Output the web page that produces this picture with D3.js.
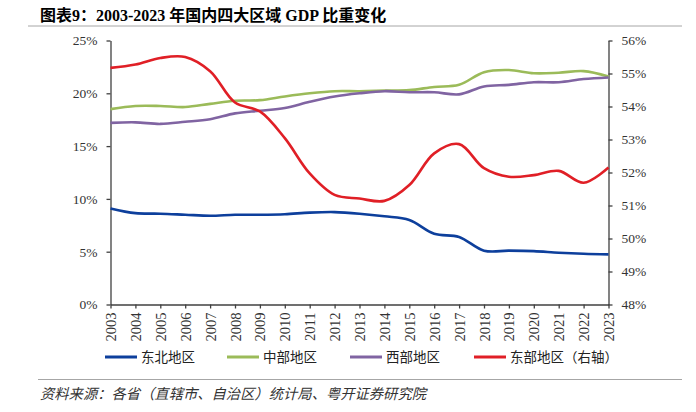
<!DOCTYPE html>
<html lang="zh">
<head>
  <meta charset="UTF-8">
  <title>2003-2023 年国内四大区域 GDP 比重变化</title>
  <script src="https://d3js.org/d3.v7.min.js"></script>
  <style>
    body { margin: 0; background: #fff; }
    .latin { font-family: "Liberation Serif", "DejaVu Serif", serif; }
    .cjk { font-family: "Noto Sans CJK SC", sans-serif; }
  </style>
</head>
<body>
  <div class="canvas"></div>
  <script>
    const width = 696;
    const height = 412;

    // data (share of national GDP, %)
    const years = d3.range(2003, 2024).map(String);
    const northeast = [9.1, 8.65, 8.6, 8.5, 8.4, 8.5, 8.5, 8.55, 8.7, 8.75, 8.6, 8.35, 8.0, 6.7, 6.4, 5.1, 5.1, 5.05, 4.9, 4.8, 4.75];
    const central = [18.5, 18.8, 18.8, 18.7, 19.0, 19.3, 19.35, 19.7, 20.0, 20.2, 20.2, 20.25, 20.3, 20.6, 20.8, 22.0, 22.2, 21.9, 21.95, 22.1, 21.6];
    const western = [17.2, 17.25, 17.1, 17.3, 17.55, 18.1, 18.35, 18.6, 19.2, 19.7, 20.0, 20.2, 20.1, 20.1, 19.9, 20.65, 20.8, 21.05, 21.05, 21.35, 21.5];
    const eastern = [55.17, 55.27, 55.47, 55.5, 55.07, 54.12, 53.85, 53.04, 51.97, 51.32, 51.21, 51.14, 51.62, 52.58, 52.86, 52.13, 51.87, 51.92, 52.05, 51.69, 52.15];
    const leftTicks = [0, 5, 10, 15, 20, 25];
    const rightTicks = [48, 49, 50, 51, 52, 53, 54, 55, 56];

    const series = [
      { name: '东北地区', values: northeast, color: '#0d3f9c', axis: 'left' },
      { name: '中部地区', values: central, color: '#9bbb59', axis: 'left' },
      { name: '西部地区', values: western, color: '#8064a2', axis: 'left' },
      { name: '东部地区（右轴）', values: eastern, color: '#e01f26', axis: 'right' }
    ];

    const [ml, mr, mt, mb] = [110.5, 608.5, 40.5, 304.5];

    const svg = d3.select('.canvas')
      .append('svg')
      .attr('width', width)
      .attr('height', height);

    // title
    svg.append('text')
      .attr('x', 40)
      .attr('y', 21)
      .attr('font-size', 16)
      .attr('font-weight', 'bold')
      .attr('fill', '#000')
      .style('font-family', '"Liberation Serif", "Noto Sans CJK SC", serif')
      .text('图表9：2003-2023 年国内四大区域 GDP 比重变化');

    svg.append('line')
      .attr('x1', 28).attr('x2', 682)
      .attr('y1', 26).attr('y2', 26)
      .attr('stroke', '#a6a6a6')
      .attr('stroke-width', 1);

    const x = d3.scalePoint()
      .domain(years)
      .range([ml, mr]);

    const yL = d3.scaleLinear()
      .domain([0, 25])
      .range([mb, mt]);

    const yR = d3.scaleLinear()
      .domain([48, 56])
      .range([mb, mt]);

    const axisColor = '#404040';

    const styleAxis = g => {
      g.select('.domain').attr('stroke', axisColor).attr('stroke-width', 1.3);
      g.selectAll('.tick line').attr('stroke', axisColor).attr('stroke-width', 1.3);
      g.selectAll('.tick text')
        .attr('class', 'latin')
        .attr('font-size', 13.5)
        .attr('fill', '#333');
      g.attr('font-family', null);
    };

    svg.append('g')
      .attr('transform', `translate(${ml}, 0)`)
      .call(d3.axisLeft(yL).tickValues(leftTicks).tickSize(4).tickPadding(9).tickSizeOuter(0).tickFormat(d => d + '%'))
      .call(styleAxis);

    svg.append('g')
      .attr('transform', `translate(${mr}, 0)`)
      .call(d3.axisRight(yR).tickValues(rightTicks).tickSize(4).tickPadding(9).tickSizeOuter(0).tickFormat(d => d + '%'))
      .call(styleAxis);

    const xAxisG = svg.append('g')
      .attr('transform', `translate(0, ${mb})`)
      .call(d3.axisBottom(x).tickSize(4).tickSizeOuter(0))
      .call(styleAxis);

    xAxisG.selectAll('.tick text')
      .attr('transform', 'rotate(-90)')
      .attr('x', -8)
      .attr('y', 0)
      .attr('dy', '0.35em')
      .attr('font-size', 14.5)
      .attr('text-anchor', 'end');

    // lines
    const lineFor = s => d3.line()
      .x((d, i) => x(years[i]))
      .y(d => (s.axis === 'left' ? yL(d) : yR(d)))
      .curve(d3.curveCatmullRom.alpha(0.5));

    svg.selectAll('.series')
      .data(series)
      .enter()
      .append('path')
      .attr('class', 'series')
      .attr('fill', 'none')
      .attr('stroke', d => d.color)
      .attr('stroke-width', 2.6)
      .attr('stroke-linejoin', 'round')
      .attr('d', d => lineFor(d)(d.values));

    // legend
    const legendX = [105, 227, 350, 474];
    const legendY = 357;

    const legend = svg.selectAll('.legend')
      .data(series)
      .enter()
      .append('g')
      .attr('class', 'legend')
      .attr('transform', (d, i) => `translate(${legendX[i]}, ${legendY})`);

    legend.append('line')
      .attr('x1', 0).attr('x2', 32)
      .attr('y1', 0).attr('y2', 0)
      .attr('stroke', d => d.color)
      .attr('stroke-width', 3);

    legend.append('text')
      .attr('class', 'cjk')
      .attr('x', 36)
      .attr('dy', '0.36em')
      .attr('font-size', 13.5)
      .attr('fill', '#222')
      .text(d => d.name);

    // source
    svg.append('line')
      .attr('x1', 38).attr('x2', 682)
      .attr('y1', 379.5).attr('y2', 379.5)
      .attr('stroke', '#a6a6a6')
      .attr('stroke-width', 1);

    svg.append('text')
      .attr('class', 'cjk')
      .attr('x', 40)
      .attr('y', 399)
      .attr('font-size', 14.3)
      .attr('font-style', 'italic')
      .attr('fill', '#333')
      .text('资料来源：各省（直辖市、自治区）统计局、粤开证券研究院');
  </script>
</body>
</html>
